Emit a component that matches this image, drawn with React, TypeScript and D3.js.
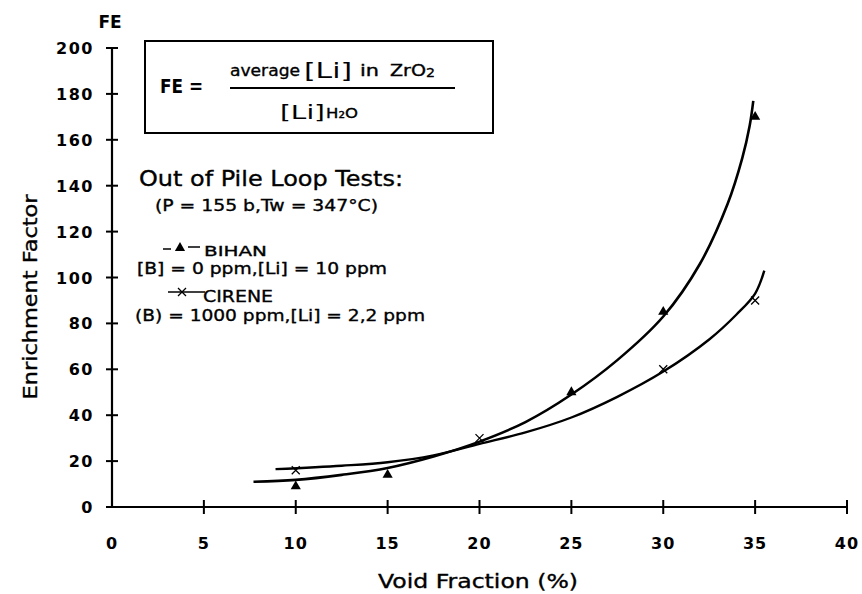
import React from 'react'
import * as d3 from 'd3'

const xTicks = [0, 5, 10, 15, 20, 25, 30, 35, 40]
const yTicks = [0, 20, 40, 60, 80, 100, 120, 140, 160, 180, 200]

// measured points
const bihanPoints = [
  [10, 9],
  [15, 14],
  [25, 50],
  [30, 85],
  [35, 170]
]
const cirenePoints = [
  [10, 16],
  [20, 30],
  [30, 60],
  [35, 90]
]

// fitted curves
const bihanCurve = [
  [7.7, 11],
  [10, 11.8],
  [12.5, 14],
  [15, 17],
  [17.5, 22],
  [20, 28.5],
  [22.5, 37],
  [25, 49],
  [27.5, 64],
  [30, 83],
  [32, 106],
  [33.5, 132],
  [34.3, 152],
  [34.7, 166],
  [34.9, 177]
]
const cireneCurve = [
  [8.9, 16.5],
  [12.5, 18],
  [15, 19.5],
  [17.5, 22.5],
  [20, 27.5],
  [22.5, 32.5],
  [25, 39],
  [27.5, 48],
  [30, 59],
  [32.5, 73],
  [34, 84],
  [35, 93],
  [35.5, 103]
]

const W = 862
const H = 594
const font = "'DejaVu Sans', sans-serif"

const T = ({ x, y, size, len, children, bold = false, anchor = 'start', transform = undefined, sw = 0.35 }) => (
  <text
    x={x}
    y={y}
    transform={transform}
    textAnchor={anchor}
    fontFamily={font}
    fontSize={size}
    fontWeight={bold ? 'bold' : 'normal'}
    textLength={len}
    lengthAdjust="spacingAndGlyphs"
    stroke="#000"
    strokeWidth={bold ? 0 : sw}
  >
    {children}
  </text>
)

const App = () => {
  const x = d3.scaleLinear().domain([0, 40]).range([112, 847])
  const y = d3.scaleLinear().domain([0, 200]).range([507, 48])

  const line = d3
    .line()
    .x((d) => x(d[0]))
    .y((d) => y(d[1]))
    .curve(d3.curveCatmullRom.alpha(0.5))

  const tri = d3.symbol().type(d3.symbolTriangle).size(45)()

  return (
    <div style={{ position: 'absolute', left: 0, top: 0 }}>
      <svg width={W} height={H} style={{ display: 'block', background: '#fff' }}>
        <rect width={W} height={H} fill="#fff" />

        {/* axes */}
        <line x1={x(0)} x2={x(40)} y1={y(0)} y2={y(0)} stroke="#000" strokeWidth={2} />
        <line x1={x(0)} x2={x(0)} y1={y(0)} y2={y(200)} stroke="#000" strokeWidth={2.2} />
        {xTicks.map((t) => (
          <g key={'x' + t}>
            {t > 0 && (
              <line x1={x(t)} x2={x(t)} y1={y(0) - 7} y2={y(0) + 7} stroke="#000" strokeWidth={2} />
            )}
            <text
              x={x(t)}
              y={549}
              textAnchor="middle"
              fontFamily={font}
              fontWeight="bold"
              fontSize={16}
              letterSpacing={1}
            >
              {t}
            </text>
          </g>
        ))}
        {yTicks.map((t) => (
          <g key={'y' + t}>
            <line x1={x(0) - 6} x2={x(0) + 6} y1={y(t)} y2={y(t)} stroke="#000" strokeWidth={2} />
            <text
              x={94}
              y={y(t) + 6}
              textAnchor="end"
              fontFamily={font}
              fontWeight="bold"
              fontSize={16}
              letterSpacing={1.5}
            >
              {t}
            </text>
          </g>
        ))}

        <T x={110} y={28} size={17} bold anchor="middle">
          FE
        </T>
        <T x={478} y={588} size={19} len={200} anchor="middle">
          Void Fraction (%)
        </T>
        <T transform="translate(37,297) rotate(-90)" x={0} y={0} size={19} len={205} anchor="middle">
          Enrichment Factor
        </T>

        {/* formula box */}
        <rect x={145} y={41} width={348} height={92} fill="none" stroke="#000" strokeWidth={2} />
        <T x={160} y={93} size={19} len={43} bold>
          FE =
        </T>
        <T x={230} y={76} size={15} len={70}>
          average
        </T>
        <T x={304} y={78} size={21} len={48} sw={0}>
          [Li]
        </T>
        <T x={360} y={76} size={15} len={19}>
          in
        </T>
        <T x={390} y={76} size={15} len={36}>
          ZrO
        </T>
        <T x={426} y={77} size={12} len={9}>
          2
        </T>
        <line x1={230} x2={455} y1={88} y2={88} stroke="#000" strokeWidth={2} />
        <T x={280} y={119} size={20} len={45} sw={0}>
          [Li]
        </T>
        <T x={326} y={118} size={14} len={32}>
          H₂O
        </T>

        {/* legend block */}
        <T x={139} y={186} size={21} len={264}>
          Out of Pile Loop Tests:
        </T>
        <T x={155} y={211} size={16} len={223}>
          (P = 155 b,Tw = 347°C)
        </T>
        <line x1={163} x2={171} y1={249} y2={249} stroke="#000" strokeWidth={1.5} />
        <line x1={188} x2={200} y1={247} y2={247} stroke="#000" strokeWidth={1.5} />
        <path d={tri} transform="translate(180,248)" fill="#000" />
        <T x={204} y={256} size={14} len={63}>
          BIHAN
        </T>
        <T x={137} y={274} size={15} len={250}>
          [B] = 0 ppm,[Li] = 10 ppm
        </T>
        <line x1={168} x2={205} y1={292} y2={292} stroke="#000" strokeWidth={1.5} />
        <path d="M178,288L186,296M186,288L178,296" stroke="#000" strokeWidth={1.3} />
        <T x={203} y={302} size={16} len={70}>
          CIRENE
        </T>
        <T x={135} y={321} size={16} len={290}>
          (B) = 1000 ppm,[Li] = 2,2 ppm
        </T>

        {/* curves */}
        <path d={line(bihanCurve)} fill="none" stroke="#000" strokeWidth={2.6} />
        <path d={line(cireneCurve)} fill="none" stroke="#000" strokeWidth={2.4} />

        {/* markers */}
        {bihanPoints.map((d, i) => (
          <path key={'b' + i} d={tri} transform={`translate(${x(d[0])},${y(d[1])})`} fill="#000" />
        ))}
        {cirenePoints.map((d, i) => (
          <path
            key={'c' + i}
            d={`M${x(d[0]) - 4},${y(d[1]) - 4}L${x(d[0]) + 4},${y(d[1]) + 4}M${x(d[0]) + 4},${y(d[1]) - 4}L${x(d[0]) - 4},${y(d[1]) + 4}`}
            stroke="#000"
            strokeWidth={1.3}
          />
        ))}
      </svg>
    </div>
  )
}

export default App
